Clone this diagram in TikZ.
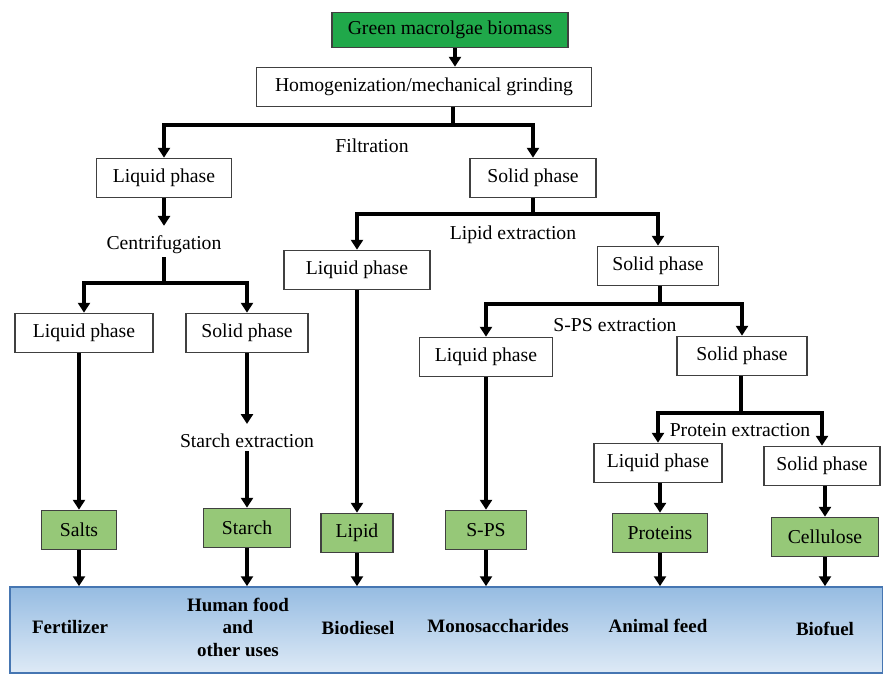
\documentclass[tikz,border=0pt]{standalone}
\usepackage{fontspec}
\setmainfont{Liberation Serif}
\usetikzlibrary{arrows.meta}
\definecolor{topgreen}{RGB}{32,168,74}
\definecolor{prodgreen}{RGB}{150,200,120}
\definecolor{bandtop}{RGB}{150,188,226}
\definecolor{bandbot}{RGB}{222,234,246}
\definecolor{bandline}{RGB}{70,118,178}
\begin{document}
\begin{tikzpicture}[x=0.025cm,y=-0.025cm,
    box/.style={draw=black!75, line width=0.9pt, fill=white, font=\fontsize{14}{16}\selectfont, minimum height=28pt, inner sep=2pt},
    prod/.style={box, fill=prodgreen},
    wd/.style={minimum width=#1*0.7113pt},
    lbl/.style={font=\fontsize{14}{16}\selectfont, inner sep=2pt},
    use/.style={font=\bfseries\fontsize{13.5}{16}\selectfont, align=center},
    link/.style={line width=2.4pt},
    arr/.style={link, -{Triangle[width=8.5pt,length=7pt]}}]
  \useasboundingbox (0,0) rectangle (883,675);
  % top of the chain
  \node[box, fill=topgreen, wd=236, minimum height=25pt] (biomass) at (450,30) {Green macrolgae biomass};
  \node[box, wd=335] (homog) at (424,87) {Homogenization/mechanical grinding};
  \draw[arr] (biomass.south -| 455,0) -- (homog.north -| 455,0);
  % filtration
  \node[lbl] (filt) at (372,146) {Filtration};
  \node[box, wd=135] (liq1) at (164,178) {Liquid phase};
  \node[box, wd=126] (sol1) at (533,178) {Solid phase};
  \coordinate (fbar) at (453,125);
  \draw[link] (homog.south -| fbar) -- (fbar);
  \draw[arr] (fbar) -| (liq1.north);
  \draw[arr] (fbar) -| (sol1.north);
  % centrifugation
  \node[lbl] (centri) at (164,245) {Centrifugation};
  \node[box, wd=138] (liq2) at (84,333) {Liquid phase};
  \node[box, wd=122] (sol2) at (247,333) {Solid phase};
  \coordinate (cbar) at (164,283);
  \draw[arr, shorten >=5pt] (liq1) -- (centri);
  \draw[link] (centri) -- (cbar);
  \draw[arr] (cbar) -| (liq2.north);
  \draw[arr] (cbar) -| (sol2.north);
  % lipid extraction
  \node[lbl] (lipx) at (513,235) {Lipid extraction};
  \node[box, wd=146] (liq3) at (357,270) {Liquid phase};
  \node[box, wd=121] (sol3) at (658,266) {Solid phase};
  \coordinate (lbar) at (533,214);
  \draw[link] (sol1.south -| lbar) -- (lbar);
  \draw[arr] (lbar) -| (liq3.north);
  \draw[arr] (lbar) -| (sol3.north);
  % S-PS extraction
  \node[lbl] (spsx) at (615,325) {S-PS extraction};
  \node[box, wd=133] (liq4) at (486,357) {Liquid phase};
  \node[box, wd=130] (sol4) at (742,356) {Solid phase};
  \coordinate (sbar) at (660,304);
  \draw[link] (sol3.south -| sbar) -- (sbar);
  \draw[arr] (sbar) -| (liq4.north);
  \draw[arr] (sbar) -| (sol4.north);
  % protein extraction
  \node[lbl] (protx) at (740,430) {Protein extraction};
  \node[box, wd=128] (liq5) at (658,463) {Liquid phase};
  \node[box, wd=116] (sol5) at (822,466) {Solid phase};
  \coordinate (pbar) at (741,413);
  \draw[link] (sol4.south -| pbar) -- (pbar);
  \draw[arr] (pbar) -| (liq5.north);
  \draw[arr] (pbar) -| (sol5.north);
  % starch extraction
  \node[lbl] (starchx) at (247,441) {Starch extraction};
  % products
  \node[prod, wd=75] (salts) at (79,530) {Salts};
  \node[prod, wd=87] (starch) at (247,528) {Starch};
  \node[prod, wd=72] (lipid) at (357,533) {Lipid};
  \node[prod, wd=81] (sps) at (486,530) {S-PS};
  \node[prod, wd=95] (prot) at (660,533) {Proteins};
  \node[prod, wd=107] (cell) at (825,537) {Cellulose};
  \draw[arr] (salts.north |- liq2.south) -- (salts.north);
  \draw[arr, shorten >=5pt] (sol2) -- (starchx);
  \draw[arr] (starchx) -- (starch);
  \draw[arr] (liq3) -- (lipid);
  \draw[arr] (liq4) -- (sps);
  \draw[arr] (prot.north |- liq5.south) -- (prot.north);
  \draw[arr] (cell.north |- sol5.south) -- (cell.north);
  % uses
  \node[draw=bandline, line width=1.2pt, top color=bandtop, bottom color=bandbot, minimum width=873*0.7113pt, minimum height=86*0.7113pt, inner sep=0pt] (band) at (446.5,630) {};
  \foreach \p in {salts,starch,lipid,sps,prot,cell}
    \draw[arr] (\p) -- (\p |- band.north);
  \node[use] (fert) at (70,627) {Fertilizer};
  \node[use] (food) at (238,627) {Human food\\and\\other uses};
  \node[use] (biod) at (358,628) {Biodiesel};
  \node[use] (mono) at (498,626) {Monosaccharides};
  \node[use] (anim) at (658,626) {Animal feed};
  \node[use] (biof) at (825,629) {Biofuel};
\end{tikzpicture}
\end{document}
